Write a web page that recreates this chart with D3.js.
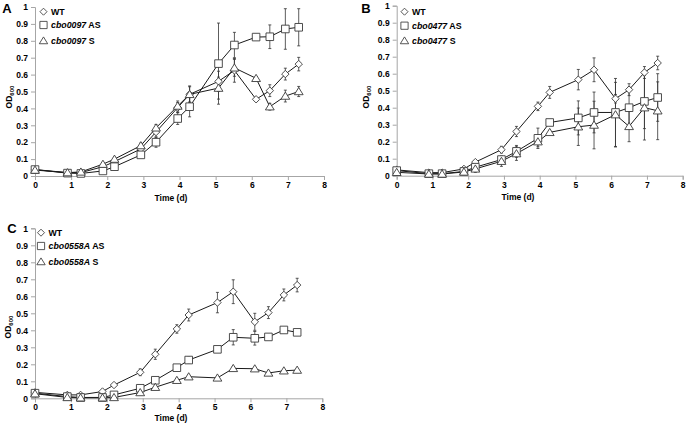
<!DOCTYPE html>
<html><head><meta charset="utf-8">
<script src="https://cdn.jsdelivr.net/npm/d3@7"></script>
<style>
html,body{margin:0;padding:0;background:#fff;}
svg{display:block;}
text{font-family:"Liberation Sans",Arial,sans-serif;}
</style></head>
<body>
<svg id="chart" width="688" height="427"></svg>
<script>
// ---- data ----
const days = [0,0.9,1.27,1.88,2.2,2.93,3.35,3.95,4.28,5.08,5.52,6.12,6.5,6.93,7.3];
const xTicks = [0,1,2,3,4,5,6,7,8];
const yTicks = [0,0.1,0.2,0.3,0.4,0.5,0.6,0.7,0.8,0.9,1];
const yTickLabels = ["0","0.1","0.2","0.3","0.4","0.5","0.6","0.7","0.8","0.9","1"];
const seriesNames = ["WT","AS","S"];

const wtA = [0.038,0.02,0.02,0.055,0.085,0.16,0.26,0.405,0.483,0.56,0.625,0.454,0.505,0.603,0.662];
const asA = [0.038,0.017,0.015,0.03,0.055,0.125,0.20,0.34,0.41,0.665,0.775,0.822,0.824,0.87,0.88];
const sA  = [0.035,0.02,0.024,0.07,0.10,0.18,0.285,0.414,0.483,0.52,0.64,0.578,0.41,0.473,0.50];
const wtAErr = [0.005,0.003,0.003,0.005,0.008,0.02,0.03,0.03,0.045,0.06,0.07,0.01,0.035,0.035,0.04];
const asAErr = [0.005,0.003,0.003,0.005,0.01,0.015,0.03,0.035,0.06,0.24,0.075,0.01,0.07,0.12,0.11];
const sAErr  = [0.005,0.003,0.003,0.008,0.01,0.015,0.02,0.03,0.05,0.065,0.05,0.01,0.02,0.035,0.03];

const wtB = [0.034,0.018,0.018,0.04,0.08,0.153,0.26,0.408,0.49,0.565,0.623,0.453,0.506,0.607,0.663];
const asB = [0.03,0.012,0.012,0.025,0.05,0.095,0.143,0.22,0.313,0.34,0.372,0.372,0.40,0.437,0.46];
const sB  = [0.02,0.01,0.01,0.022,0.04,0.085,0.13,0.20,0.255,0.288,0.298,0.359,0.29,0.40,0.382];
const wtBErr = [0.005,0.003,0.003,0.005,0.008,0.02,0.03,0.025,0.035,0.06,0.07,0.025,0.035,0.035,0.04];
const asBErr = [0.005,0.003,0.003,0.008,0.02,0.02,0.035,0.06,0.01,0.1,0.12,0.2,0.12,0.16,0.14];
const sBErr  = [0.005,0.003,0.003,0.008,0.02,0.03,0.04,0.03,0.01,0.11,0.14,0.19,0.09,0.19,0.17];

const wtC = [0.035,0.02,0.02,0.04,0.078,0.153,0.259,0.408,0.49,0.563,0.627,0.45,0.504,0.608,0.666];
const asC = [0.03,0.01,0.005,0.005,0.02,0.059,0.106,0.18,0.225,0.288,0.359,0.353,0.361,0.402,0.388];
const sC  = [0.027,0.005,0.003,0.003,0.005,0.034,0.065,0.106,0.127,0.12,0.176,0.174,0.149,0.162,0.166];
const wtCErr = [0.005,0.003,0.003,0.005,0.008,0.02,0.03,0.025,0.035,0.06,0.07,0.05,0.035,0.035,0.04];
const asCErr = [0.005,0.003,0.003,0.003,0.005,0.01,0.01,0.015,0.02,0.01,0.045,0.04,0.015,0.01,0.015];
const sCErr  = [0.003,0.003,0.003,0.003,0.003,0.005,0.005,0.008,0.008,0.008,0.01,0.008,0.008,0.008,0.008];

const genes = ["cbo0097","cbo0477","cbo0558A"];
const panelLetters = ["A","B","C"];

// ---- layout ----
const panels = [
  {letter:panelLetters[0], gene:genes[0], x0:35, x1:324, yTop:7, yBot:176,
   vals:[wtA,asA,sA], errs:[wtAErr,asAErr,sAErr], letterX:7, letterY:13, legX:43.5, legY:[11.7,25,40.7], odX:12, odY:97, timeX:171, timeY:201},
  {letter:panelLetters[1], gene:genes[1], x0:396.7, x1:682.7, yTop:5.7, yBot:175.7,
   vals:[wtB,asB,sB], errs:[wtBErr,asBErr,sBErr], letterX:366, letterY:13, legX:404.5, legY:[11.7,25.7,40.7], odX:369, odY:97, timeX:518, timeY:200},
  {letter:panelLetters[2], gene:genes[2], x0:35, x1:322.3, yTop:228.3, yBot:398.3,
   vals:[wtC,asC,sC], errs:[wtCErr,asCErr,sCErr], letterX:12, letterY:233, legX:41, legY:[232.7,246,261.7], odX:11, odY:327, timeX:171, timeY:421}
];

const svg = d3.select("#chart");
const markerStroke = "#3a3a3a";
const lineColor = "#1a1a1a";
const axisColor = "#a6a6a6";

function markerPath(kind){
  if(kind===0){ const r=3.7; return `M0,${-r}L${r},0L0,${r}L${-r},0Z`; }
  if(kind===1){ const h=3.8; return `M${-h},${-h}L${h},${-h}L${h},${h}L${-h},${h}Z`; }
  return "M0,-4L4.4,3.2L-4.4,3.2Z";
}

panels.forEach(p=>{
  const x = d3.scaleLinear().domain([0,8]).range([p.x0,p.x1]);
  const y = d3.scaleLinear().domain([0,1]).range([p.yBot,p.yTop]);
  const g = svg.append("g");

  const yAxis = d3.axisLeft(y).tickValues(yTicks).tickFormat((d,i)=>yTickLabels[i]).tickSize(4).tickPadding(3);
  const ya = g.append("g").attr("transform",`translate(${p.x0},0)`).call(yAxis);
  const xAxis = d3.axisBottom(x).tickValues(xTicks).tickFormat(d3.format("d")).tickSize(4).tickPadding(3);
  const xa = g.append("g").attr("transform",`translate(0,${p.yBot})`).call(xAxis);
  [ya,xa].forEach(a=>{
    a.select(".domain").attr("stroke",axisColor).attr("stroke-width",1);
    a.selectAll(".tick line").attr("stroke",axisColor);
    a.selectAll(".tick text").attr("fill","#000").attr("font-size","8.5px").attr("font-weight","bold")
      .attr("font-family",'"Liberation Sans",Arial,sans-serif');
  });
  xa.selectAll(".tick text").attr("dy","0.6em");

  const lineGen = d3.line().x((d,i)=>x(days[i])).y(d=>y(d));
  p.vals.forEach((vals,si)=>{
    const sg = g.append("g");
    const errs = p.errs[si];
    vals.forEach((v,i)=>{
      const e = errs[i];
      const cx = x(days[i]);
      sg.append("line").attr("x1",cx).attr("x2",cx).attr("y1",y(v-e)).attr("y2",y(v+e))
        .attr("stroke","#333").attr("stroke-width",0.8);
      [v-e,v+e].forEach(ev=>{
        sg.append("line").attr("x1",cx-1.5).attr("x2",cx+1.5).attr("y1",y(ev)).attr("y2",y(ev))
          .attr("stroke","#333").attr("stroke-width",0.8);
      });
    });
    sg.append("path").datum(vals).attr("d",lineGen).attr("fill","none").attr("stroke",lineColor).attr("stroke-width",1);
  });
  p.vals.forEach((vals,si)=>{
    g.append("g").selectAll("path").data(vals).join("path")
      .attr("d",markerPath(si))
      .attr("transform",(d,i)=>`translate(${x(days[i])},${y(d)})`)
      .attr("fill","#fff").attr("stroke",markerStroke).attr("stroke-width",0.9);
  });

  g.append("text").attr("x",p.letterX).attr("y",p.letterY).attr("text-anchor","middle")
    .attr("font-size","13px").attr("font-weight","bold").text(p.letter);

  const od = g.append("text").attr("transform",`translate(${p.odX},${p.odY}) rotate(-90)`)
    .attr("text-anchor","middle").attr("font-size","8.5px").attr("font-weight","bold");
  od.append("tspan").text("OD");
  od.append("tspan").attr("font-size","6px").attr("dy","2").text("600");

  g.append("text").attr("x",p.timeX).attr("y",p.timeY).attr("text-anchor","middle")
    .attr("font-size","8.5px").attr("font-weight","bold").text("Time (d)");

  seriesNames.forEach((nm,si)=>{
    const ly = p.legY[si];
    g.append("path").attr("d",markerPath(si))
      .attr("transform",`translate(${p.legX},${ly}) scale(0.95)`)
      .attr("fill","#fff").attr("stroke",markerStroke).attr("stroke-width",0.9);
    const t = g.append("text").attr("x",p.legX+7.5).attr("y",ly+3.2)
      .attr("font-size","8.8px").attr("font-weight","bold")
      .attr("font-family",'"Liberation Sans Narrow","Liberation Sans",Arial,sans-serif');
    if(si===0){ t.text("WT"); }
    else {
      t.append("tspan").attr("font-style","italic").text(p.gene);
      t.append("tspan").text(si===1?" AS":" S");
    }
  });
});
</script>
</body></html>
